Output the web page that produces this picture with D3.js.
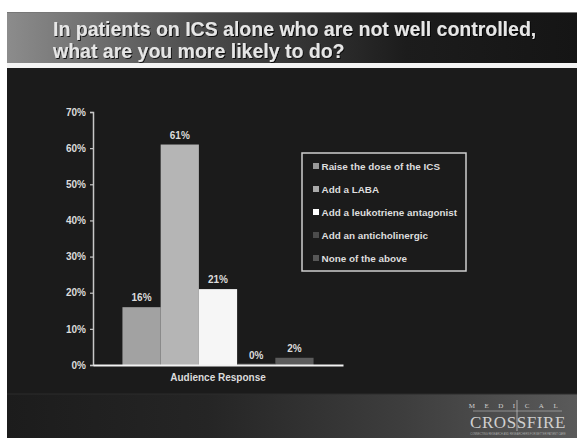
<!DOCTYPE html>
<html>
<head>
<meta charset="utf-8">
<script src="https://cdn.jsdelivr.net/npm/d3@7"></script>
<style>
  html, body { margin: 0; padding: 0; background: #ffffff; }
  svg { display: block; }
</style>
</head>
<body>
<svg id="chart" width="577" height="438" font-family="'Liberation Sans', Arial, sans-serif"></svg>
<script>
// Poll question and audience responses
const titleLines = ["In patients on ICS alone who are not well controlled,", "what are you more likely to do?"];
const category = "Audience Response";
const options = ["Raise the dose of the ICS", "Add a LABA", "Add a leukotriene antagonist", "Add an anticholinergic", "None of the above"];
const responses = [0.16, 0.61, 0.21, 0.00, 0.02];
const barColors = ["#a2a2a2", "#b5b5b5", "#f6f6f6", "#4a4a4a", "#5c5c5c"];
const legendColors = ["#9a9a9a", "#aaaaaa", "#ffffff", "#4c4c4c", "#575757"];
const yTicks = [0, 0.1, 0.2, 0.3, 0.4, 0.5, 0.6, 0.7];

const sans = "'Liberation Sans', Arial, sans-serif";
const serif = "'Liberation Serif', 'DejaVu Serif', serif";

const svg = d3.select("#chart");
const defs = svg.append("defs");

// Slide backgrounds
const tg = defs.append("linearGradient").attr("id", "titleGrad").attr("x1", "0").attr("x2", "1");
tg.append("stop").attr("offset", "0").attr("stop-color", "#8c8c8c");
tg.append("stop").attr("offset", "0.35").attr("stop-color", "#4a4a4a");
tg.append("stop").attr("offset", "0.7").attr("stop-color", "#1c1c1c");
tg.append("stop").attr("offset", "1").attr("stop-color", "#151515");

const bg = defs.append("linearGradient").attr("id", "footGrad").attr("x1", "0").attr("x2", "1");
bg.append("stop").attr("offset", "0").attr("stop-color", "#1c1c1c");
bg.append("stop").attr("offset", "0.35").attr("stop-color", "#252525");
bg.append("stop").attr("offset", "0.7").attr("stop-color", "#3e3e3e");
bg.append("stop").attr("offset", "1").attr("stop-color", "#5a5a5a");

const sh = defs.append("filter").attr("id", "shadow").attr("x", "-5%").attr("y", "-20%").attr("width", "110%").attr("height", "140%");
sh.append("feDropShadow").attr("dx", 1).attr("dy", 1).attr("stdDeviation", 0.6).attr("flood-color", "#000").attr("flood-opacity", 0.8);

svg.append("rect").attr("x", 7).attr("y", 12).attr("width", 570).attr("height", 426).attr("fill", "#1b1b1b");
svg.append("rect").attr("x", 7).attr("y", 12).attr("width", 570).attr("height", 51).attr("fill", "url(#titleGrad)");
svg.append("line").attr("x1", 7).attr("x2", 577).attr("y1", 12.5).attr("y2", 12.5).attr("stroke", "#777").attr("stroke-width", 1);
svg.append("rect").attr("x", 7).attr("y", 63).attr("width", 570).attr("height", 5).attr("fill", "#f4f4f4");
svg.append("rect").attr("x", 7).attr("y", 394).attr("width", 570).attr("height", 44).attr("fill", "url(#footGrad)");
svg.append("line").attr("x1", 7).attr("x2", 577).attr("y1", 394).attr("y2", 394).attr("stroke", "#2c2c2c").attr("stroke-width", 1);

// Title
svg.append("g").attr("filter", "url(#shadow)")
  .selectAll("text").data(titleLines).join("text")
  .attr("x", 53).attr("y", (d, i) => 36 + i * 22)
  .attr("font-size", 19.5).attr("font-weight", "bold").attr("fill", "#e6e6e6")
  .text(d => d);

// Scales
const x0 = d3.scaleBand().domain([category]).range([93, 343]);
const x1 = d3.scaleBand().domain(options).range([0, x0.bandwidth()]).paddingInner(0).paddingOuter(0.77);
const y = d3.scaleLinear().domain([0, 0.7]).range([365, 112]);

// Y axis
const yAxis = svg.append("g").attr("transform", "translate(93,0)")
  .call(d3.axisLeft(y).tickValues(yTicks).tickFormat(d3.format(".0%")).tickSize(3).tickPadding(4));
yAxis.select(".domain").attr("stroke", "#c8c8c8").attr("stroke-width", 1.5);
yAxis.selectAll(".tick line").attr("stroke", "#c8c8c8").attr("stroke-width", 1.2);
yAxis.selectAll(".tick text").attr("fill", "#dcdcdc").attr("font-size", 10).attr("font-weight", "bold")
  .attr("font-family", sans);

// Bars
const group = svg.append("g").attr("transform", `translate(${x0(category)},0)`);
group.selectAll("rect").data(responses).join("rect")
  .attr("x", (d, i) => x1(options[i]))
  .attr("y", d => y(d) - (d === 0 ? 1.5 : 0))
  .attr("width", x1.bandwidth())
  .attr("height", d => y(0) - y(d) + (d === 0 ? 1.5 : 0))
  .attr("fill", (d, i) => barColors[i]);

group.selectAll("text").data(responses).join("text")
  .attr("x", (d, i) => x1(options[i]) + x1.bandwidth() / 2)
  .attr("y", d => y(d) - 6)
  .attr("text-anchor", "middle")
  .attr("font-size", 10).attr("font-weight", "bold").attr("fill", "#dcdcdc")
  .text(d => d3.format(".0%")(d));

// X axis baseline and category label
const xAxis = svg.append("g").attr("transform", `translate(0,${y(0)})`)
  .call(d3.axisBottom(x0).tickSize(0).tickPadding(9));
xAxis.select(".domain").attr("stroke", "#f2f2f2").attr("stroke-width", 2);
xAxis.selectAll(".tick text").attr("fill", "#dcdcdc").attr("font-size", 10).attr("font-weight", "bold")
  .attr("font-family", sans);

// Legend
const legend = svg.append("g").attr("transform", "translate(302,153)");
legend.append("rect").attr("width", 164).attr("height", 118)
  .attr("fill", "none").attr("stroke", "#cfcfcf").attr("stroke-width", 1.5);
const items = legend.selectAll("g.item").data(options).join("g").attr("class", "item")
  .attr("transform", (d, i) => `translate(11,${13 + i * 23})`);
items.append("rect").attr("x", 0).attr("y", -3).attr("width", 6).attr("height", 6)
  .attr("fill", (d, i) => legendColors[i]);
items.append("text").attr("x", 8.5).attr("y", 3.6)
  .attr("font-size", 9.9).attr("font-weight", "bold").attr("fill", "#dedede")
  .text(d => d);

// Footer logo
const logo = svg.append("g").attr("fill", "#d0d0d0");
logo.append("text").attr("x", 518).attr("y", 408).attr("text-anchor", "middle")
  .attr("font-family", serif).attr("font-size", 7).attr("letter-spacing", 9.5)
  .text("MEDICAL");
logo.append("line").attr("x1", 473).attr("x2", 562).attr("y1", 411).attr("y2", 411)
  .attr("stroke", "#bdbdbd").attr("stroke-width", 0.6);
logo.append("line").attr("x1", 517).attr("x2", 517).attr("y1", 400).attr("y2", 431)
  .attr("stroke", "#bdbdbd").attr("stroke-width", 0.8);
logo.append("text").attr("x", 518).attr("y", 428).attr("text-anchor", "middle")
  .attr("font-family", serif).attr("font-size", 17).attr("letter-spacing", 0.6)
  .text("CROSSFIRE");
logo.append("text").attr("x", 518).attr("y", 435).attr("text-anchor", "middle")
  .attr("font-size", 2.6).attr("fill", "#aaaaaa")
  .text("CONNECTING RESEARCH AND RESEARCHERS FOR BETTER PATIENT CARE");
</script>
</body>
</html>
